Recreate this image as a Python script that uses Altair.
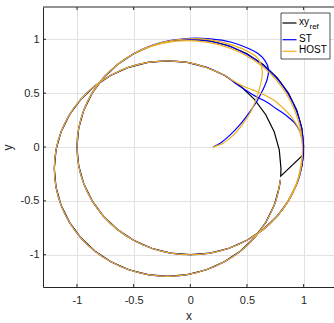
import altair as alt
import pandas as pd

FONT = "Liberation Sans, Arial, sans-serif"

# reference trajectory: unit circle, then jump to the shifted circle
ref_points = [
    (1.000, 0.000), (0.985, 0.174), (0.940, 0.342), (0.866, 0.500), (0.766, 0.643), (0.643, 0.766),
    (0.500, 0.866), (0.342, 0.940), (0.174, 0.985), (0.000, 1.000), (-0.174, 0.985), (-0.342, 0.940),
    (-0.500, 0.866), (-0.643, 0.766), (-0.766, 0.643), (-0.866, 0.500), (-0.940, 0.342), (-0.985, 0.174),
    (-1.000, 0.000), (-0.985, -0.174), (-0.940, -0.342), (-0.866, -0.500), (-0.766, -0.643), (-0.643, -0.766),
    (-0.500, -0.866), (-0.342, -0.940), (-0.174, -0.985), (0.000, -1.000), (0.174, -0.985), (0.342, -0.940),
    (0.500, -0.866), (0.643, -0.766), (0.766, -0.643), (0.866, -0.500), (0.940, -0.342), (0.985, -0.174),
    (0.998, -0.070),
    (0.798, -0.270), (0.800, -0.200), (0.785, -0.026), (0.740, 0.142), (0.666, 0.300), (0.566, 0.443),
    (0.443, 0.566), (0.300, 0.666), (0.142, 0.740), (-0.026, 0.785), (-0.200, 0.800), (-0.374, 0.785),
    (-0.542, 0.740), (-0.700, 0.666), (-0.843, 0.566), (-0.966, 0.443), (-1.066, 0.300), (-1.140, 0.142),
    (-1.185, -0.026), (-1.200, -0.200), (-1.185, -0.374), (-1.140, -0.542), (-1.066, -0.700), (-0.966, -0.843),
    (-0.843, -0.966), (-0.700, -1.066), (-0.542, -1.140), (-0.374, -1.185), (-0.200, -1.200), (-0.026, -1.185),
    (0.142, -1.140), (0.300, -1.066), (0.443, -0.966), (0.566, -0.843), (0.666, -0.700), (0.740, -0.542),
    (0.785, -0.374), (0.795, -0.305),
]

st_points = [
    (0.20, 0.00), (0.27, 0.04), (0.35, 0.11), (0.44, 0.21), (0.52, 0.32), (0.59, 0.43), (0.645, 0.54),
    (0.68, 0.635), (0.69, 0.725), (0.66, 0.80), (0.60, 0.865), (0.52, 0.912), (0.355, 0.975),
    (0.177, 1.004), (0.0, 1.01), (-0.26, 0.97), (-0.5, 0.866),
    (-0.766, 0.643), (-0.94, 0.342), (-1.0, 0.0), (-0.94, -0.342), (-0.766, -0.643), (-0.5, -0.866),
    (-0.174, -0.985), (0.174, -0.985), (0.5, -0.866), (0.766, -0.643), (0.94, -0.342),
    (1.0, 0.0), (0.935, 0.34), (0.762, 0.64), (0.498, 0.862), (0.173, 0.982), (-0.174, 0.985),
    (-0.5, 0.866), (-0.766, 0.643), (-0.94, 0.342), (-1.0, 0.0), (-0.94, -0.342), (-0.766, -0.643),
    (-0.5, -0.866), (-0.174, -0.985), (0.174, -0.985), (0.5, -0.866), (0.766, -0.643), (0.94, -0.342),
    (0.985, -0.174), (0.999, -0.04), (0.99, 0.07), (0.965, 0.15), (0.92, 0.225), (0.85, 0.29),
    (0.76, 0.355), (0.67, 0.42), (0.58, 0.468), (0.49, 0.527), (0.40, 0.59),
    (0.300, 0.666), (-0.026, 0.785), (-0.374, 0.785), (-0.700, 0.666), (-0.966, 0.443), (-1.140, 0.142),
    (-1.200, -0.200), (-1.140, -0.542), (-0.966, -0.843), (-0.700, -1.066), (-0.374, -1.185),
    (-0.026, -1.185), (0.300, -1.066), (0.566, -0.843), (0.740, -0.542), (0.795, -0.305),
]

host_points = [
    (0.20, 0.00), (0.29, 0.035), (0.38, 0.11), (0.46, 0.21), (0.53, 0.32), (0.58, 0.44), (0.615, 0.56),
    (0.635, 0.67), (0.625, 0.76), (0.59, 0.83), (0.52, 0.88), (0.36, 0.95), (0.175, 0.995),
    (0.0, 1.005), (-0.26, 0.968), (-0.5, 0.866),
    (-0.766, 0.643), (-0.94, 0.342), (-1.0, 0.0), (-0.94, -0.342), (-0.766, -0.643), (-0.5, -0.866),
    (-0.174, -0.985), (0.174, -0.985), (0.5, -0.866), (0.766, -0.643), (0.94, -0.342),
    (0.99, 0.0), (0.923, 0.336), (0.752, 0.631), (0.491, 0.850), (0.171, 0.969), (-0.172, 0.977),
    (-0.5, 0.866), (-0.766, 0.643), (-0.94, 0.342), (-1.0, 0.0), (-0.94, -0.342), (-0.766, -0.643),
    (-0.5, -0.866), (-0.174, -0.985), (0.174, -0.985), (0.5, -0.866), (0.766, -0.643), (0.935, -0.34),
    (0.975, -0.172), (0.99, -0.04), (0.982, 0.075), (0.955, 0.175), (0.895, 0.275), (0.825, 0.355),
    (0.75, 0.425), (0.65, 0.485), (0.55, 0.53), (0.45, 0.572), (0.37, 0.62),
    (0.300, 0.666), (-0.026, 0.785), (-0.374, 0.785), (-0.700, 0.666), (-0.966, 0.443), (-1.140, 0.142),
    (-1.200, -0.200), (-1.140, -0.542), (-0.966, -0.843), (-0.700, -1.066), (-0.374, -1.185),
    (-0.026, -1.185), (0.300, -1.066), (0.566, -0.843), (0.740, -0.542), (0.795, -0.305),
]

tick_values = [-1, -0.5, 0, 0.5, 1]
series_names = ["xy", "ST", "HOST"]
series_colors = ["#000000", "#0000ff", "#edb120"]


def frame(points):
    return pd.DataFrame({
        "x": [p[0] for p in points],
        "y": [p[1] for p in points],
        "order": list(range(len(points))),
    })


W, H = 291, 280
xscale = alt.Scale(domain=[-1.3, 1.268], nice=False, zero=False)
yscale = alt.Scale(domain=[-1.3, 1.3], nice=False, zero=False)

common_axis = dict(
    values=tick_values, labelExpr="toString(datum.value)", grid=True, gridColor="#e2e2e2",
    gridWidth=1, domainColor="#262626", domainWidth=1, ticks=False, labelColor="#262626",
    labelFont=FONT, labelFontSize=11, titleFont=FONT, titleFontSize=12, titleFontWeight="normal",
    titleColor="#262626", labelFlush=False,
)
x_enc = alt.X("x:Q", scale=xscale, axis=alt.Axis(title="x", labelPadding=7, titlePadding=5, **common_axis))
y_enc = alt.Y("y:Q", scale=yscale, axis=alt.Axis(title="y", labelPadding=4, titlePadding=6, **common_axis))


def line(points, color, interp):
    return alt.Chart(frame(points)).mark_line(
        color=color, strokeWidth=1.2, interpolate=interp, clip=True
    ).encode(x=x_enc, y=y_enc, order="order:Q")


ref_layer = line(ref_points, series_colors[0], "linear")
st_layer = line(st_points, series_colors[1], "catmull-rom")
host_layer = line(host_points, series_colors[2], "catmull-rom")

axis_col = "#262626"
xticks_df = pd.DataFrame({"x": tick_values})
yticks_df = pd.DataFrame({"y": tick_values})
xt_bottom = alt.Chart(xticks_df).mark_rule(color=axis_col, strokeWidth=1).encode(
    x=x_enc, y=alt.value(H), y2=alt.value(H - 3))
xt_top = alt.Chart(xticks_df).mark_rule(color=axis_col, strokeWidth=1).encode(
    x=x_enc, y=alt.value(0), y2=alt.value(3))
yt_left = alt.Chart(yticks_df).mark_rule(color=axis_col, strokeWidth=1).encode(
    y=y_enc, x=alt.value(0), x2=alt.value(3))
top_border = alt.Chart(pd.DataFrame({"k": [0]})).mark_rule(color=axis_col, strokeWidth=1).encode(
    x=alt.value(0), x2=alt.value(W), y=alt.value(0))

# legend (drawn inside the plot, top-right)
one = pd.DataFrame({"k": [0]})
leg_box = alt.Chart(one).mark_rect(fill="white", stroke=axis_col, strokeWidth=0.8).encode(
    x=alt.value(238), x2=alt.value(287), y=alt.value(6), y2=alt.value(52))
leg_rows = [16, 32.7, 44.3]
leg_layers = [leg_box]
for name, col, yy in zip(series_names, series_colors, leg_rows):
    leg_layers.append(alt.Chart(one).mark_rule(color=col, strokeWidth=1.2).encode(
        x=alt.value(239.5), x2=alt.value(253.5), y=alt.value(yy)))
    leg_layers.append(alt.Chart(one).mark_text(
        align="left", baseline="middle", font=FONT, fontSize=10, color="#000000").encode(
        x=alt.value(256), y=alt.value(yy - 1), text=alt.value(name)))
leg_layers.append(alt.Chart(one).mark_text(
    align="left", baseline="middle", font=FONT, fontSize=8, color="#000000").encode(
    x=alt.value(266.5), y=alt.value(leg_rows[0] + 4), text=alt.value("ref")))

chart = alt.layer(
    ref_layer, st_layer, host_layer, xt_bottom, xt_top, yt_left, top_border, *leg_layers
).properties(
    width=W, height=H,
    padding={"left": 43, "top": 7, "right": 0, "bottom": 36},
    autosize=alt.AutoSizeParams(type="none"),
).configure_view(stroke=None)

chart.save("out.html", embed_options={"renderer": "svg", "actions": False})
